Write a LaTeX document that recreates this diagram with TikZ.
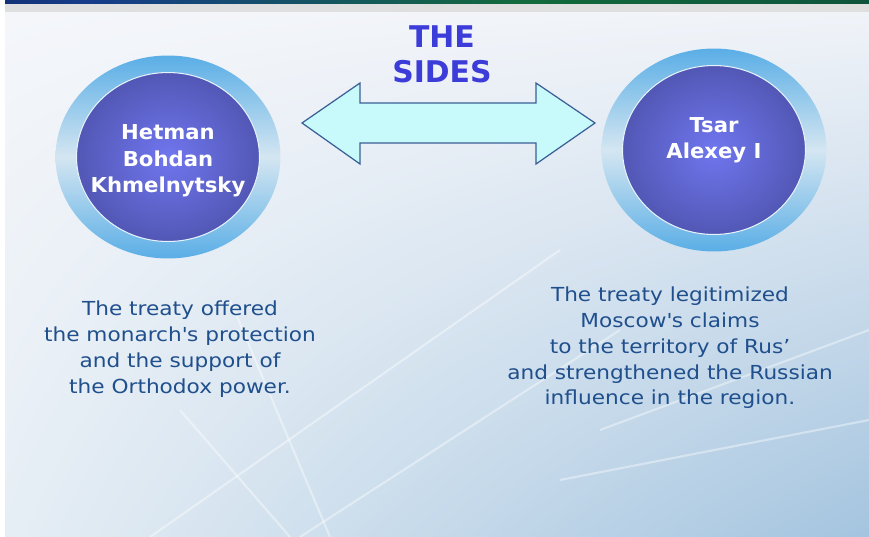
\documentclass[tikz,border=0pt]{standalone}
\usepackage{fontspec}
\setmainfont{DejaVu Sans}
\newfontfamily\storyfont[FakeStretch=1.12]{DejaVu Sans}
\newfontfamily\whofont[FakeStretch=1.03]{DejaVu Sans}
\usetikzlibrary{positioning,shapes.geometric,shadings}
\definecolor{titleblue}{HTML}{3C3CD8}
\definecolor{textblue}{HTML}{1F4F8C}
\definecolor{ringblue}{HTML}{5AAEE6}
\definecolor{ringpale}{HTML}{D4E6F1}
\definecolor{diskglow}{HTML}{7076EE}
\definecolor{diskdark}{HTML}{454A9C}
\definecolor{arrowfill}{HTML}{C8FAFC}
\definecolor{arrowline}{HTML}{3A5F95}
\definecolor{bandA}{HTML}{03061C}
\definecolor{bandB}{HTML}{163C8A}
\definecolor{bandC}{HTML}{126A3C}
\definecolor{bandD}{HTML}{0C4C3C}
\definecolor{bandE}{HTML}{22302E}
\definecolor{bgtl}{HTML}{F4F6FA}
\definecolor{bgtr}{HTML}{F0F3F8}
\definecolor{bgbl}{HTML}{E6EEF5}
\definecolor{bgbr}{HTML}{A4C4DF}
\pgfdeclareradialshading{disk}{\pgfpoint{0bp}{0bp}}{color(0bp)=(diskglow); color(36bp)=(diskdark); color(50bp)=(diskdark)}
\pgfdeclarehorizontalshading{topband}{100bp}{color(0bp)=(bandA); color(30bp)=(bandB); color(55bp)=(bandC); color(82bp)=(bandD); color(100bp)=(bandE)}

\begin{document}
\begin{tikzpicture}[x=0.02cm,y=-0.02cm,
    ring/.style={ellipse, inner sep=0pt, minimum width=4.5cm, minimum height=4.06cm,
        top color=ringblue, bottom color=ringblue, middle color=ringpale},
    disk/.style={ellipse, inner sep=0pt, minimum width=3.66cm, minimum height=3.38cm,
        shading=disk, draw=white!85!ringblue, line width=0.6pt},
    who/.style={text=white, align=center, font=\whofont\fontsize{11.7}{15}\selectfont\bfseries},
    story/.style={text=textblue, align=center, font=\storyfont\fontsize{11}{14.7}\selectfont},
    streak/.style={white, line width=1.2pt, opacity=0.4}]
    \useasboundingbox (0,0) rectangle (869,537);
    \fill[white] (0,0) rectangle (869,537);

    % Background and top bands
    \shade[upper left=bgtl, upper right=bgtr, lower left=bgbl, lower right=bgbr] (5,12) rectangle (869,537);
    \draw[streak] (150,537) -- (560,250);
    \draw[streak] (300,537) -- (620,330);
    \draw[streak] (180,410) -- (290,537);
    \draw[streak] (230,300) -- (330,537);
    \draw[streak] (560,480) -- (869,420);
    \draw[streak] (600,430) -- (869,330);
    \fill[gray!25] (5,4) rectangle (869,12);
    \shade[shading=topband] (5,0) rectangle (869,4);

    % Title
    \node[text=titleblue, align=center, font=\fontsize{17}{20}\selectfont\bfseries] (title) at (442,54) {THE\\SIDES};

    % The two sides
    \node[ring] (hetman ring) at (168,157) {};
    \node[disk] (hetman) at (hetman ring) {};
    \node[who] (hetman name) at ([yshift=-0.08cm]hetman) {Hetman\\Bohdan\\Khmelnytsky};

    \node[ring] (tsar ring) at (714,150) {};
    \node[disk] (tsar) at (tsar ring) {};
    \node[who] (tsar name) at ([yshift=0.2cm]tsar) {Tsar\\Alexey I};

    % Double arrow between them
    \draw[fill=arrowfill, draw=arrowline, line width=0.7pt, line join=miter]
        (302,123) -- (360,83) -- (360,103) -- (536,103) -- (536,83) -- (595,123)
        -- (536,164) -- (536,143) -- (360,143) -- (360,164) -- cycle;

    % What each side gained
    \node[story] (hetman text) at (180,349) {The treaty offered\\the monarch\textquotesingle s protection\\and the support of\\the Orthodox power.};
    \node[story] (tsar text) at (670,348) {The treaty legitimized\\Moscow\textquotesingle s claims\\to the territory of Rus’\\and strengthened the Russian\\influence in the region.};
\end{tikzpicture}
\end{document}
